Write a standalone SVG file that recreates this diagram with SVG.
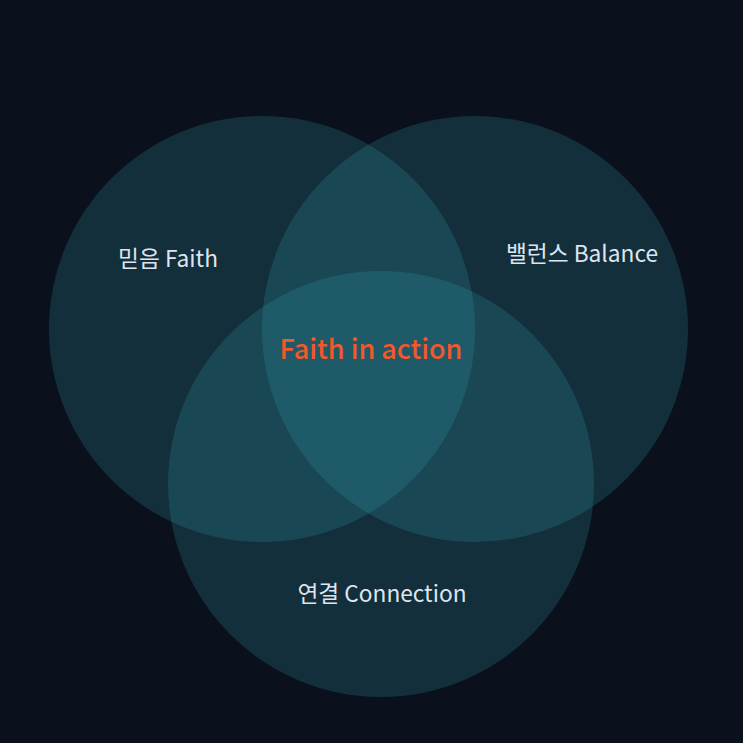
<svg xmlns="http://www.w3.org/2000/svg" width="743" height="743" viewBox="0 0 743 743">
<style>
.c{fill:#38a9bb;fill-opacity:0.2}
.l{font-family:"Noto Sans CJK KR","Noto Sans",sans-serif;font-size:22.7px;fill:#dfe5ef;text-anchor:middle}
.m{font-family:"Noto Sans CJK KR","Noto Sans",sans-serif;font-size:27px;font-weight:500;fill:#f2582a;text-anchor:middle}
</style>
<rect width="743" height="743" fill="#0b111c"/>
<g id="faith"><circle class="c" cx="262" cy="329" r="213"/></g>
<g id="balance"><circle class="c" cx="475" cy="329" r="213"/></g>
<g id="connection"><circle class="c" cx="381" cy="484" r="213"/></g>
<g id="connectors"></g>
<g id="labels">
<text class="l" x="168" y="267">믿음 Faith</text>
<text class="l" x="582" y="262">밸런스 Balance</text>
<text class="l" x="382" y="602">연결 Connection</text>
<text class="m" x="371" y="359">Faith in action</text>
</g>
</svg>
